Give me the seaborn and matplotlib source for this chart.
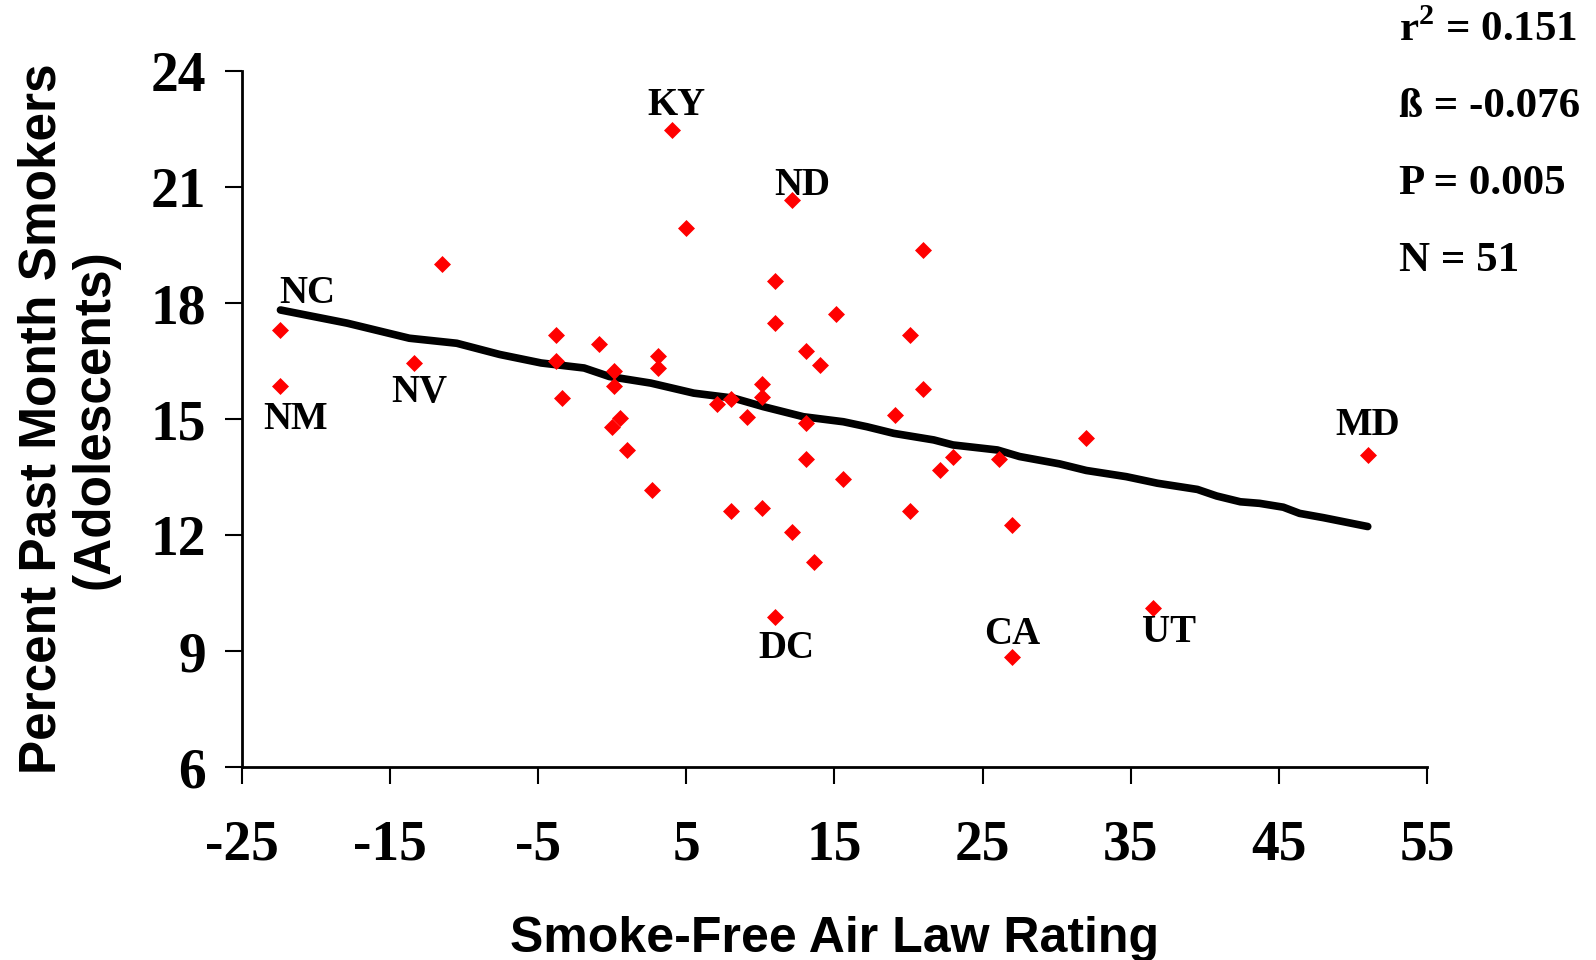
import numpy as np
import pandas as pd
import seaborn as sns
from matplotlib import pyplot as plt

# state-level data
rating = [-22.4, -22.4, -11.5, -13.4, -3.8, -3.8, -3.4, -0.9, 0.1, 0.1,
          0.0, 0.5, 1.0, 2.7, 3.1, 3.1, 4.0, 5.0, 7.05, 8.0,
          9.1, 10.1, 10.1, 8.0, 10.1, 11.0, 11.0, 11.0, 12.1, 12.1,
          13.1, 14.0, 13.1, 13.1, 13.6, 15.1, 15.6, 19.1, 20.1, 20.1,
          21.0, 21.0, 22.1, 23.0, 26.1, 27.0, 27.0, 32.0, 36.5, 51.0]
smokers = [17.3, 15.85, 19.0, 16.45, 17.18, 16.49, 15.55, 16.94, 16.23, 15.86,
           14.80, 15.02, 14.20, 13.17, 16.63, 16.32, 22.47, 19.95, 15.39, 15.52,
           15.06, 15.91, 15.56, 12.62, 12.69, 18.56, 17.48, 9.89, 20.66, 12.07,
           16.77, 16.40, 14.89, 13.97, 11.30, 17.71, 13.46, 15.11, 17.18, 12.62,
           19.38, 15.77, 13.67, 14.01, 13.96, 12.26, 8.85, 14.50, 10.11, 14.07]
state = ['NC', 'NM', '', 'NV', '', '', '', '', '', '',
         '', '', '', '', '', '', 'KY', '', '', '',
         '', '', '', '', '', '', '', 'DC', 'ND', '',
         '', '', '', '', '', '', '', '', '', '',
         '', '', '', '', '', '', 'CA', '', 'UT', 'MD']

# trend line
trend_x = [-22.4, -17.9, -13.7, -10.5, -7.6, -4.8, -1.9, -0.2, 2.6, 5.5,
           8.2, 10.2, 12.9, 15.6, 17.2, 19.0, 21.7, 23.0, 26.0, 27.5,
           30.2, 32.0, 34.7, 36.8, 39.5, 40.8, 42.4, 43.7, 45.3, 46.4,
           48.0, 51.0]
trend_y = [17.82, 17.48, 17.09, 16.96, 16.67, 16.45, 16.32, 16.10, 15.93, 15.67,
           15.54, 15.32, 15.06, 14.93, 14.80, 14.63, 14.46, 14.33, 14.20, 14.03,
           13.84, 13.67, 13.51, 13.34, 13.18, 13.01, 12.86, 12.82, 12.72, 12.56,
           12.45, 12.22]

stats = ["r$^2$ = 0.151", "ß = -0.076", "P = 0.005", "N = 51"]

# label offsets (pixels) from their point
offsets = {'NC': (27, 37), 'NM': (15, -33), 'NV': (5, -30), 'KY': (5, 25),
           'ND': (11, 15), 'DC': (11, -32), 'CA': (0, 22), 'UT': (16, -24),
           'MD': (0, 30)}

df = pd.DataFrame({'rating': rating, 'smokers': smokers, 'state': state})
line = pd.DataFrame({'x': trend_x, 'y': trend_y})

sns.set_style("white")
serif = ['Liberation Serif', 'DejaVu Serif']
sans = ['Liberation Sans', 'DejaVu Sans']
plt.rcParams['font.family'] = serif
plt.rcParams['mathtext.fontset'] = 'custom'
plt.rcParams['mathtext.rm'] = 'Liberation Serif:bold'
plt.rcParams['axes.unicode_minus'] = False
plt.rcParams['text.color'] = 'black'
plt.rcParams['axes.labelcolor'] = 'black'
plt.rcParams['xtick.color'] = 'black'
plt.rcParams['ytick.color'] = 'black'

fig = plt.figure(figsize=(15.96, 9.6), dpi=100)
ax = fig.add_axes([0.1516, 0.2010, 0.7425, 0.7250])

sns.lineplot(data=line, x='x', y='y', sort=False, color='black', linewidth=5.5,
             ax=ax, zorder=2)
sns.scatterplot(data=df, x='rating', y='smokers', marker='D', color='#ff0000',
                s=75, linewidth=0, ax=ax, zorder=3)

for _, row in df[df.state != ''].iterrows():
    dx, dy = offsets[row.state]
    ax.annotate(row.state, (row.rating, row.smokers), xytext=(dx, dy),
                textcoords='offset pixels', ha='center', va='center',
                fontsize=28, fontweight='bold', family=serif)

ax.set_xlim(-25, 55)
ax.set_ylim(6, 24)
ax.set_xticks(np.arange(-25, 56, 10))
ax.set_yticks(np.arange(6, 25, 3))
ax.tick_params(axis='both', direction='out', length=12, width=1.5,
               left=True, bottom=True)
ax.tick_params(axis='x', labelsize=40, pad=26)
ax.tick_params(axis='y', labelsize=40, pad=14)
for lab in ax.get_xticklabels() + ax.get_yticklabels():
    lab.set_fontweight('bold')
for side in ['top', 'right']:
    ax.spines[side].set_visible(False)
for side in ['left', 'bottom']:
    ax.spines[side].set_linewidth(2)
    ax.spines[side].set_color('black')

ax.set_xlabel("Smoke-Free Air Law Rating", fontsize=36, fontweight='bold',
              family=sans, labelpad=32)
ax.set_ylabel("Percent Past Month Smokers\n(Adolescents)", fontsize=37,
              fontweight='bold', family=sans, labelpad=22, linespacing=1.1)

for k, txt in enumerate(stats):
    fig.text(0.8766, 1 - (30.5 + 76.7 * k) / 960, txt, fontsize=31,
             fontweight='bold', family=serif, ha='left', va='center')

fig.savefig("out.png", dpi=100)
